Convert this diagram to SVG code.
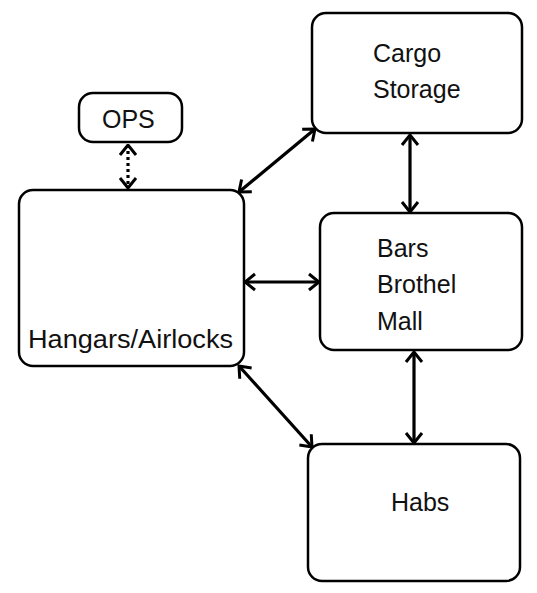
<svg xmlns="http://www.w3.org/2000/svg" width="537" height="593" viewBox="0 0 537 593">
<style>
.box{fill:#fff;stroke:#000;stroke-width:2.5}
.t{font-family:"Liberation Sans",Arial,sans-serif;font-size:25px;fill:#111}
.c{stroke:#000;stroke-width:3.2;fill:none}
.d{stroke-dasharray:3 3}
</style>
<defs>
<marker id="ah" markerUnits="userSpaceOnUse" viewBox="0 0 13 20" refX="11.5" refY="10" markerWidth="13" markerHeight="20" orient="auto-start-reverse">
<path d="M1.5,2 L11.5,10 L1.5,18" fill="none" stroke="#000" stroke-width="3"/>
</marker>
</defs>
<rect width="537" height="593" fill="#fff"/>
<g id="connectors">
<line class="c d" x1="128" y1="145" x2="128" y2="188" marker-start="url(#ah)" marker-end="url(#ah)"/>
<line class="c" x1="239" y1="192" x2="315" y2="129" marker-start="url(#ah)" marker-end="url(#ah)"/>
<line class="c" x1="245" y1="282" x2="319" y2="282" marker-start="url(#ah)" marker-end="url(#ah)"/>
<line class="c" x1="410" y1="135" x2="410" y2="212" marker-start="url(#ah)" marker-end="url(#ah)"/>
<line class="c" x1="414" y1="352" x2="414" y2="443" marker-start="url(#ah)" marker-end="url(#ah)"/>
<line class="c" x1="239" y1="366" x2="312" y2="447" marker-start="url(#ah)" marker-end="url(#ah)"/>
</g>
<g id="ops">
<rect class="box" x="79" y="93" width="103" height="49" rx="14"/>
<text class="t" x="102" y="128">OPS</text>
</g>
<g id="hangars">
<rect class="box" x="19" y="190" width="225" height="176" rx="14"/>
<text class="t" x="28" y="348" textLength="205" lengthAdjust="spacingAndGlyphs">Hangars/Airlocks</text>
</g>
<g id="cargo">
<rect class="box" x="312" y="13" width="210" height="120" rx="14"/>
<text class="t" x="373" y="62">Cargo</text>
<text class="t" x="373" y="98">Storage</text>
</g>
<g id="bars">
<rect class="box" x="320" y="213" width="202" height="137" rx="14"/>
<text class="t" x="377" y="257">Bars</text>
<text class="t" x="377" y="293">Brothel</text>
<text class="t" x="377" y="330">Mall</text>
</g>
<g id="habs">
<rect class="box" x="308" y="444" width="212" height="137" rx="14"/>
<text class="t" x="391" y="511">Habs</text>
</g>
</svg>
